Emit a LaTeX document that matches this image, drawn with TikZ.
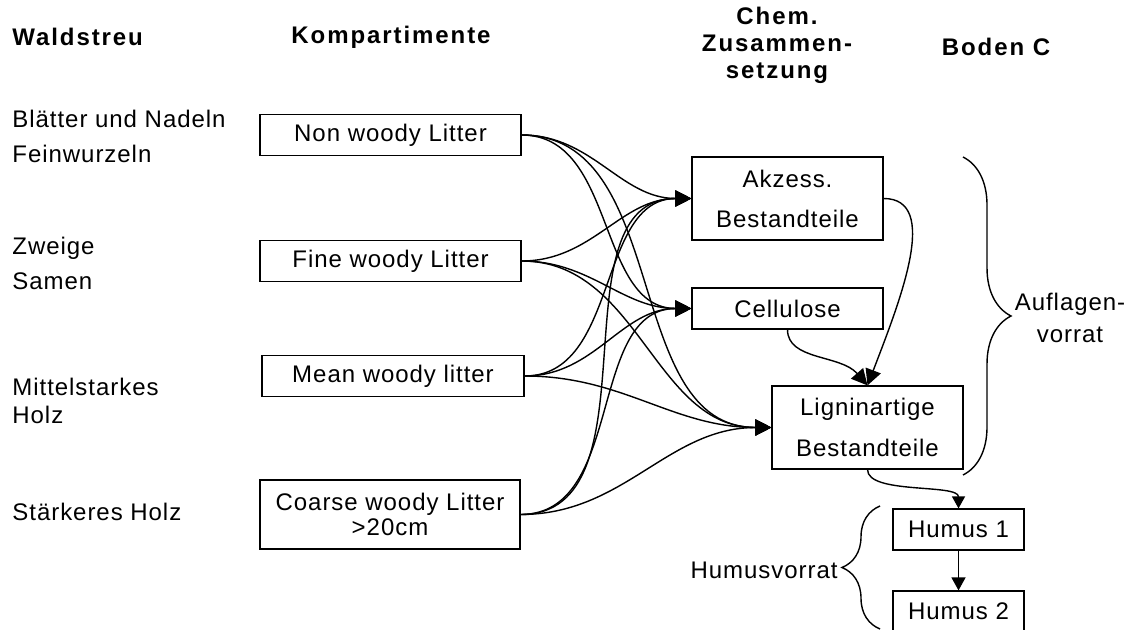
\documentclass[tikz,border=0pt]{standalone}
\usepackage{fontspec}
\setmainfont{Liberation Sans}[LetterSpace=4]
\newfontfamily\headfont{Liberation Sans}[LetterSpace=8]
\usetikzlibrary{arrows.meta,decorations.pathreplacing}
\tikzset{
	bx/.style={draw,line width=0.6pt,inner sep=0pt,align=center,font=\fontsize{12}{14}\selectfont},
	txt/.style={inner sep=0pt,align=left,font=\fontsize{12}{14}\selectfont},
	head/.style={inner sep=0pt,align=center,font=\fontsize{12}{13.5}\selectfont\headfont\bfseries},
	conn/.style={line width=0.7pt,-{Triangle[length=8pt,width=8pt]}},
	brc/.style={line width=0.7pt,decorate,decoration={brace,aspect=0.5}}
}
\begin{document}
\begin{tikzpicture}[x=0.5pt,y=-0.5pt]
 	   			\clip (0,0) rectangle (1127,630);
 	   			\node[head,anchor=west] (hWald) at (12,37) {Waldstreu};
 	   			\node[head] (hKomp) at (391,37) {Kompartimente};
 	   			\node[head] (hChem) at (777,45) {Chem.\\Zusammen-\\setzung};
 	   			\node[head] (hBoden) at (996,47) {Boden C};
 	   			\node[txt,anchor=west] (tBlatt) at (12,136) {Blätter und Nadeln\\[3.5pt]Feinwurzeln};
 	   			\node[txt,anchor=west] (tZweig) at (12,263) {Zweige\\[3.5pt]Samen};
 	   			\node[txt,anchor=west] (tMittel) at (12,401) {Mittelstarkes\\Holz};
 	   			\node[txt,anchor=west] (tStark) at (12,512) {Stärkeres Holz};
 	   			\node[bx,minimum width=130.5pt,minimum height=20.5pt] (nw) at (390.5,135) {Non woody Litter};
 	   			\node[bx,minimum width=130.5pt,minimum height=20.5pt] (fw) at (390.5,261) {Fine woody Litter};
 	   			\node[bx,minimum width=131pt,minimum height=20.5pt] (mw) at (393,376) {Mean woody litter};
 	   			\node[bx,minimum width=130pt,minimum height=34.5pt] (cw) at (390,514.5) {Coarse woody Litter\\[-1.5pt]>20cm};
 	   			\node[bx,minimum width=95.5pt,minimum height=41.5pt] (akz) at (787.5,198.5) {Akzess.\\[6pt]Bestandteile};
 	   			\node[bx,minimum width=95.5pt,minimum height=20.5pt] (cel) at (787.5,308.5) {Cellulose};
 	   			\node[bx,minimum width=95.5pt,minimum height=41.5pt] (lig) at (867.5,427.5) {Ligninartige\\[6.5pt]Bestandteile};
 	   			\node[bx,minimum width=65.5pt,minimum height=20.5pt] (hu1) at (958.5,529.5) {Humus 1};
 	   			\node[bx,minimum width=65.5pt,minimum height=20.5pt] (hu2) at (958.5,611.5) {Humus 2};
 	   			\foreach \s in {nw,fw,mw,cw}{
 	   					\foreach \t in {akz,cel,lig}{
 	   							\draw[conn] (\s.east) to[out=0,in=180] (\t.west);
 	   					}
 	   			}
 	   			\draw[conn] (akz.east) .. controls +(57,0) and +(33,-86) .. (lig.north);
 	   			\draw[conn] (cel.south) .. controls +(0,31) and +(-27,-31) .. (lig.north);
 	   			\draw[conn,-{Triangle[length=6pt,width=6.5pt]}] (lig.south) .. controls +(0,25) and +(0,-25) .. (hu1.north);
 	   			\draw[conn,-{Triangle[length=6.5pt,width=7pt]}] (hu1) -- (hu2);
 	   			\draw[brc,decoration={amplitude=24pt}] (963,157) -- (963,475);
 	   			\draw[brc,decoration={amplitude=19pt}] (880,629) -- (880,506);
 	   			\node[txt,align=center] (lAufl) at (1070,318) {Auflagen-\\[2pt]vorrat};
 	   			\node[txt,anchor=east] (lHumus) at (838,570) {Humusvorrat};
 	   		\end{tikzpicture}
\end{document}
